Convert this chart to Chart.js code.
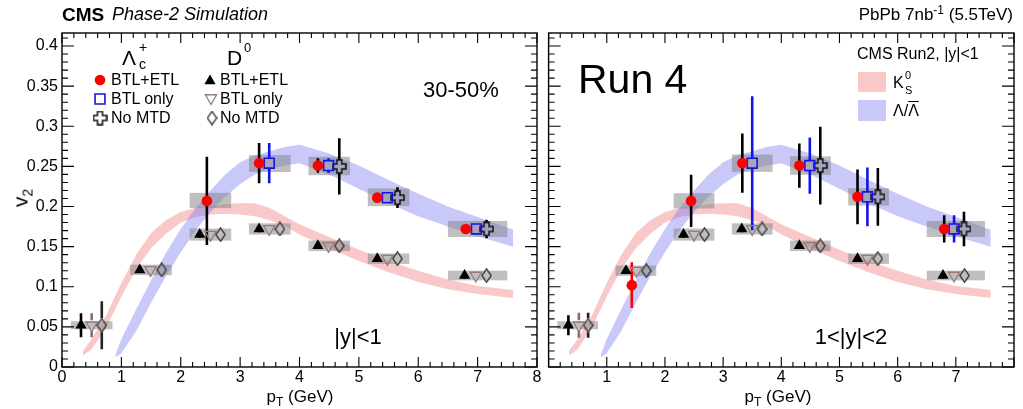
<!DOCTYPE html>
<html><head><meta charset="utf-8">
<script src="https://cdn.jsdelivr.net/npm/chart.js@4.4.1/dist/chart.umd.min.js"></script>
<style>
html,body{margin:0;padding:0;background:#fff;}
body{width:1023px;height:409px;position:relative;overflow:hidden;font-family:"Liberation Sans",Arial,Helvetica,sans-serif;color:#000;}
canvas{position:absolute;top:0;}
.t{position:absolute;white-space:nowrap;line-height:1;transform:translateY(-50%);}
.c{transform:translate(-50%,-50%);}
.sw{position:absolute;}
</style></head>
<body>
<canvas id="cL" width="560" height="409" style="left:0;width:560px;height:409px"></canvas>
<canvas id="cR" width="483" height="409" style="left:540px;width:483px;height:409px"></canvas>

<div class="t" style="left:62px;top:14px;font-size:19px;font-weight:bold">CMS</div>
<div class="t" style="left:112px;top:14px;font-size:18px;font-style:italic">Phase-2 Simulation</div>
<div class="t" style="right:10px;top:14px;font-size:17px">PbPb 7nb<span style="font-size:12px;position:relative;top:-6px">-1</span> (5.5TeV)</div>

<div class="t c" style="left:20px;top:198px;transform:translate(-50%,-50%) rotate(-90deg);font-size:21px">v<span style="font-size:14px;position:relative;top:5px">2</span></div>
<div class="t c" style="left:300px;top:396px;font-size:17px">p<span style="font-size:12px;position:relative;top:4px">T</span> (GeV)</div>
<div class="t c" style="left:778px;top:396px;font-size:17px">p<span style="font-size:12px;position:relative;top:4px">T</span> (GeV)</div>

<!-- left legend -->
<div class="t" style="left:122px;top:57px;font-size:21px">Λ</div>
<div class="t" style="left:139px;top:64px;font-size:14px">c</div>
<div class="t" style="left:139px;top:47px;font-size:14px">+</div>
<div class="t" style="left:227px;top:57px;font-size:21px">D</div>
<div class="t" style="left:244px;top:47px;font-size:13px">0</div>
<div class="t" style="left:111px;top:80px;font-size:16px">BTL+ETL</div>
<div class="t" style="left:111px;top:99px;font-size:16px">BTL only</div>
<div class="t" style="left:111px;top:118px;font-size:16px">No MTD</div>
<div class="t" style="left:220px;top:80px;font-size:16px">BTL+ETL</div>
<div class="t" style="left:220px;top:99px;font-size:16px">BTL only</div>
<div class="t" style="left:220px;top:118px;font-size:16px">No MTD</div>
<div class="t" style="left:423px;top:90px;font-size:22px">30-50%</div>
<div class="t c" style="left:358px;top:337px;font-size:22px">|y|&lt;1</div>

<!-- right panel texts -->
<div class="t" style="left:578px;top:79px;font-size:41px">Run 4</div>
<div class="t" style="left:857px;top:54px;font-size:16px">CMS Run2, |y|&lt;1</div>
<div class="sw" style="left:858px;top:72px;width:28px;height:20px;background:#f9c8c8"></div>
<div class="sw" style="left:858px;top:100px;width:28px;height:21px;background:#c8c8f9"></div>
<div class="t" style="left:893px;top:83px;font-size:16px">K</div>
<div class="t" style="left:905px;top:75px;font-size:11px">0</div>
<div class="t" style="left:905px;top:90px;font-size:11px">S</div>
<div class="t" style="left:893px;top:111px;font-size:16px">Λ/<span style="text-decoration:overline">Λ</span></div>
<div class="t c" style="left:851px;top:337px;font-size:22px">1&lt;|y|&lt;2</div>

<script>
// ---------- axis tick labels ----------
const xTickLabels     = ['0','1','2','3','4','5','6','7','8'];
const xTickLabelsRun4 = ['','1','2','3','4','5','6','7',''];
const yTickLabels     = ['0','0.05','0.1','0.15','0.2','0.25','0.3','0.35','0.4'];

// ---------- CMS Run2 |y|<1 reference bands ----------
const k0sPt = [0.35,0.5,0.75,1.0,1.25,1.5,1.75,2.0,2.25,2.5,2.75,3.0,3.25,3.5,3.75,4.0,4.5,5.0,5.5,6.0,6.5,7.0,7.6];
const k0sHi = [0.020,0.035,0.065,0.105,0.140,0.167,0.183,0.193,0.198,0.200,0.203,0.204,0.204,0.198,0.188,0.178,0.162,0.146,0.132,0.120,0.109,0.101,0.096];
const k0sLo = [0.014,0.022,0.050,0.088,0.122,0.148,0.166,0.180,0.187,0.190,0.191,0.190,0.188,0.183,0.176,0.165,0.148,0.132,0.118,0.106,0.097,0.091,0.086];
const lamPt = [0.9,1.0,1.25,1.5,1.75,2.0,2.25,2.5,2.75,3.0,3.25,3.5,3.75,4.0,4.5,5.0,5.5,6.0,6.5,7.0,7.6];
const lamHi = [0.016,0.035,0.072,0.108,0.142,0.172,0.198,0.220,0.240,0.255,0.264,0.269,0.274,0.277,0.266,0.251,0.233,0.216,0.200,0.187,0.171];
const lamLo = [0.012,0.017,0.045,0.080,0.113,0.143,0.170,0.193,0.212,0.228,0.240,0.247,0.251,0.254,0.240,0.222,0.204,0.188,0.175,0.163,0.150];

// ---------- pT bins (systematic boxes) ----------
const binLo = [0.15,1.15,2.15,3.15,4.15,5.15,6.5];
const binHi = [0.85,1.85,2.85,3.85,4.85,5.85,7.5];

// ---------- |y|<1 : D0 ----------
const d0V2_y1     = [0.052,0.121,0.165,0.172,0.151,0.135,0.114];
const d0Sys_y1    = [0.005,0.0065,0.0075,0.007,0.0065,0.0065,0.006];
const d0PtEtl_y1  = [0.32,1.31,2.32,3.32,4.31,5.31,6.78];
const d0PtBtl_y1  = [0.50,1.49,2.50,3.49,4.49,5.48,6.97];
const d0PtNo_y1   = [0.67,1.68,2.67,3.67,4.67,5.65,7.15];
const d0ErrEtl_y1 = [0.015,0.004,0.004,0.004,0.004,0.004,0.004];
const d0ErrBtl_y1 = [0.015,0.004,0.004,0.004,0.004,0.004,0.004];
const d0ErrNo_y1  = [0.030,0.0075,0.004,0.004,0.004,0.004,0.004];

// ---------- |y|<1 : Lambda_c ----------
const lcPtEtl_y1  = [2.44,3.32,4.31,5.31,6.80];
const lcV2Etl_y1  = [0.207,0.254,0.251,0.211,0.172];
const lcErrEtl_y1 = [0.055,0.025,0.009,0.005,0.0055];
const lcPtBtl_y1  = [3.49,4.49,5.48,6.98];
const lcV2Btl_y1  = [0.254,0.251,0.211,0.172];
const lcErrBtl_y1 = [0.025,0.009,0.005,0.0055];
const lcPtNo_y1   = [4.67,5.65,7.15];
const lcV2No_y1   = [0.250,0.211,0.172];
const lcErrNo_y1  = [0.035,0.013,0.0115];
const lcSysBin_y1 = [2,3,4,5,6];
const lcSysV2_y1  = [0.2075,0.2535,0.2505,0.2115,0.172];
const lcSys_y1    = [0.0095,0.0105,0.0115,0.011,0.010];

// ---------- 1<|y|<2 : D0 ----------
const d0V2_y2     = [0.052,0.120,0.165,0.172,0.151,0.135,0.114];
const d0Sys_y2    = [0.005,0.0065,0.0075,0.007,0.0065,0.0065,0.006];
const d0PtEtl_y2  = [0.34,1.33,2.32,3.32,4.31,5.31,6.78];
const d0PtBtl_y2  = [0.52,1.51,2.50,3.50,4.49,5.48,6.97];
const d0PtNo_y2   = [0.68,1.68,2.68,3.67,4.67,5.66,7.15];
const d0ErrEtl_y2 = [0.0125,0.004,0.004,0.004,0.004,0.004,0.004];
const d0ErrBtl_y2 = [0.0155,0.004,0.004,0.004,0.004,0.004,0.004];
const d0ErrNo_y2  = [0.0155,0.004,0.004,0.004,0.004,0.004,0.004];

// ---------- 1<|y|<2 : Lambda_c ----------
const lcPtEtl_y2  = [1.43,2.45,3.33,4.31,5.31,6.80];
const lcV2Etl_y2  = [0.102,0.207,0.254,0.251,0.212,0.172];
const lcErrEtl_y2 = [0.0285,0.0325,0.037,0.0275,0.034,0.017];
const lcPtBtl_y2  = [3.50,4.49,5.48,6.97];
const lcV2Btl_y2  = [0.254,0.251,0.212,0.172];
const lcErrBtl_y2 = [0.0835,0.035,0.0365,0.017];
const lcPtNo_y2   = [4.67,5.66,7.14];
const lcV2No_y2   = [0.251,0.212,0.172];
const lcErrNo_y2  = [0.0485,0.036,0.0215];
const lcSysBin_y2 = [2,3,4,5,6];
const lcSysV2_y2  = [0.207,0.254,0.251,0.212,0.172];
const lcSys_y2    = [0.0095,0.0108,0.0115,0.0108,0.010];

// ---------- styles ----------
function makeImg(w,h,fn){const c=document.createElement('canvas');c.width=w;c.height=h;fn(c.getContext('2d'));return c;}
const diamondImg = makeImg(11,15,g=>{g.strokeStyle='#3c3c3c';g.lineWidth=1.4;g.beginPath();g.moveTo(5.5,0.8);g.lineTo(10.2,7.5);g.lineTo(5.5,14.2);g.lineTo(0.8,7.5);g.closePath();g.stroke();});
const crossImg = makeImg(15,15,g=>{g.strokeStyle='#111';g.lineWidth=1.5;const a=5,b=10,e=1,f=14;g.beginPath();g.moveTo(a,e);g.lineTo(b,e);g.lineTo(b,a);g.lineTo(f,a);g.lineTo(f,b);g.lineTo(b,b);g.lineTo(b,f);g.lineTo(a,f);g.lineTo(a,b);g.lineTo(e,b);g.lineTo(e,a);g.lineTo(a,a);g.closePath();g.stroke();});
const CLEAR='rgba(0,0,0,0)';
const STY = {
  lcEtl:{pointStyle:'circle',pointRadius:5.3,pointBackgroundColor:'#ff0000',pointBorderColor:'#ff0000',pointBorderWidth:0,gap:0,err:'#000'},
  lcBtl:{pointStyle:'rect',pointRadius:7,pointBackgroundColor:CLEAR,pointBorderColor:'#1414e6',pointBorderWidth:1.6,gap:5,err:'#1414e6'},
  lcNo:{pointStyle:crossImg,pointRadius:7,pointBackgroundColor:CLEAR,pointBorderColor:CLEAR,pointBorderWidth:0,gap:6.5,err:'#000'},
  d0Etl:{pointStyle:'triangle',pointRadius:6.5,pointBackgroundColor:'#000',pointBorderColor:'#000',pointBorderWidth:0,gap:0,err:'#000'},
  d0Btl:{pointStyle:'triangle',pointRotation:180,pointRadius:6.5,pointBackgroundColor:CLEAR,pointBorderColor:'#977a7c',pointBorderWidth:1.3,gap:5,err:'#8a6c6e'},
  d0No:{pointStyle:diamondImg,pointRadius:7,pointBackgroundColor:CLEAR,pointBorderColor:CLEAR,pointBorderWidth:0,gap:7,err:'#222'}
};
const PINK='rgba(240,110,110,0.38)', BLUE='rgba(110,110,240,0.38)', SYS='rgba(128,128,128,0.5)';

function band(pt,lo,hi,color){
  return [
    {type:'line',order:10,data:pt.map((x,i)=>({x,y:lo[i]})),borderColor:CLEAR,borderWidth:0,pointRadius:0,fill:false},
    {type:'line',order:10,data:pt.map((x,i)=>({x,y:hi[i]})),borderColor:CLEAR,borderWidth:0,pointRadius:0,fill:'-1',backgroundColor:color}
  ];
}
function pts(pt,v2,err,s,errColor){
  return {type:'scatter',order:0,showLine:false,data:pt.map((x,i)=>({x,y:v2[i]})),
    pointStyle:s.pointStyle,pointRadius:s.pointRadius,pointHoverRadius:s.pointRadius,pointRotation:s.pointRotation||0,
    pointBackgroundColor:s.pointBackgroundColor,pointBorderColor:s.pointBorderColor,pointBorderWidth:s.pointBorderWidth,
    backgroundColor:s.pointBackgroundColor,borderColor:s.pointBorderColor,
    errors:err,errColor:errColor||s.err,errWidth:2.6,gap:s.gap};
}
function boxes(bins,v2,sys){
  return bins.map((b,i)=>({lo:binLo[b],hi:binHi[b],v:v2[i],s:sys[i]}));
}

const decor = {
  cL:{legend:true,boxes:[...boxes([0,1,2,3,4,5,6],d0V2_y1,d0Sys_y1),...boxes(lcSysBin_y1,lcSysV2_y1,lcSys_y1)]},
  cR:{legend:false,boxes:[...boxes([0,1,2,3,4,5,6],d0V2_y2,d0Sys_y2),...boxes(lcSysBin_y2,lcSysV2_y2,lcSys_y2)]}
};

function drawMarker(ctx,s,x,y){
  if(!Chart.helpers||!Chart.helpers.drawPoint) return;
  ctx.save();
  ctx.fillStyle=s.pointBackgroundColor; ctx.strokeStyle=s.pointBorderColor; ctx.lineWidth=s.pointBorderWidth;
  Chart.helpers.drawPoint(ctx,{pointStyle:s.pointStyle,radius:s.pointRadius,rotation:s.pointRotation||0,borderWidth:s.pointBorderWidth},x,y);
  ctx.restore();
}

const hepDecor = {
  id:'hepDecor',
  beforeDraw(chart){chart.$sysDone=false;},
  beforeDatasetDraw(chart,args){
    if(chart.$sysDone) return;
    const ds=chart.data.datasets[args.index];
    if(ds.type!=='scatter') return;
    chart.$sysDone=true;
    const cfg=decor[chart.canvas.id];
    const {ctx,chartArea:a,scales:{x,y}}=chart;
    ctx.save();
    ctx.beginPath();ctx.rect(a.left,a.top,a.right-a.left,a.bottom-a.top);ctx.clip();
    ctx.fillStyle=SYS;
    cfg.boxes.forEach(b=>{
      const x0=x.getPixelForValue(b.lo),x1=x.getPixelForValue(b.hi);
      const y0=y.getPixelForValue(b.v+b.s),y1=y.getPixelForValue(b.v-b.s);
      ctx.fillRect(x0,y0,x1-x0,y1-y0);
    });
    chart.data.datasets.forEach(d=>{
      if(!d.errors) return;
      d.data.forEach((p,i)=>{
        const px=x.getPixelForValue(p.x),py=y.getPixelForValue(p.y);
        const top=y.getPixelForValue(p.y+d.errors[i]),bot=y.getPixelForValue(p.y-d.errors[i]);
        ctx.strokeStyle=Array.isArray(d.errColor)?d.errColor[i]:d.errColor;
        ctx.lineWidth=d.errWidth;
        const g=d.gap;
        ctx.beginPath();
        if(py-g>top){ctx.moveTo(px,top);ctx.lineTo(px,py-g);}
        if(py+g<bot){ctx.moveTo(px,py+g);ctx.lineTo(px,bot);}
        ctx.stroke();
      });
    });
    ctx.restore();
  },
  afterDraw(chart){
    const {ctx,chartArea:a,scales:{x,y}}=chart;
    ctx.save();
    ctx.strokeStyle='#000';ctx.lineWidth=1.4;
    ctx.strokeRect(a.left,a.top,a.right-a.left,a.bottom-a.top);
    ctx.lineWidth=1.1;ctx.beginPath();
    for(let i=0;i<=40;i++){
      const px=x.getPixelForValue(i*0.2);const L=i%5===0?10:5;
      ctx.moveTo(px,a.bottom);ctx.lineTo(px,a.bottom-L);
      ctx.moveTo(px,a.top);ctx.lineTo(px,a.top+L);
    }
    for(let i=0;i<=41;i++){
      const v=i*0.01; if(v>y.max) break;
      const py=y.getPixelForValue(v);const L=i%5===0?12:6;
      ctx.moveTo(a.left,py);ctx.lineTo(a.left+L,py);
      ctx.moveTo(a.right,py);ctx.lineTo(a.right-L,py);
    }
    ctx.stroke();
    ctx.restore();
    if(decor[chart.canvas.id].legend){
      drawMarker(ctx,STY.lcEtl,100,80);
      drawMarker(ctx,STY.lcBtl,100,99);
      drawMarker(ctx,STY.lcNo,100,118);
      drawMarker(ctx,STY.d0Etl,210,81);
      drawMarker(ctx,STY.d0Btl,211,98);
      drawMarker(ctx,STY.d0No,212,118);
    }
  }
};

function labelFor(arr,v){
  const hit=arr.find(l=>l!==''&&Math.abs(parseFloat(l)-v)<1e-6);
  return hit===undefined?'':hit;
}
function makeChart(id,datasets,xLabels,showY,padRight){
  const tickFont={family:'Liberation Sans',size:16};
  return new Chart(document.getElementById(id),{
    data:{datasets},
    options:{
      responsive:false,animation:false,events:[],
      layout:{padding:{left:0,right:padRight,top:33,bottom:0}},
      plugins:{legend:{display:false},tooltip:{enabled:false}},
      scales:{
        x:{type:'linear',min:0,max:8,position:'bottom',
          grid:{display:false,drawTicks:false,tickLength:0},border:{display:false},
          ticks:{stepSize:1,autoSkip:false,maxRotation:0,minRotation:0,padding:1,color:'#000',font:tickFont,
            callback:v=>{const k=Math.round(v);return Math.abs(k-v)<1e-6&&xLabels[k]!==undefined?xLabels[k]:'';}},
          afterFit:s=>{s.height=42;}},
        y:{type:'linear',min:0,max:0.4162,display:showY,position:'left',
          grid:{display:false,drawTicks:false,tickLength:0},border:{display:false},
          ticks:{stepSize:0.05,includeBounds:false,autoSkip:false,padding:4,color:'#000',font:tickFont,
            callback:v=>labelFor(yTickLabels,v)},
          afterFit:s=>{s.width=showY?62:0;}}
      }
    },
    plugins:[hepDecor]
  });
}

const dsL=[
  ...band(lamPt,lamLo,lamHi,BLUE),
  ...band(k0sPt,k0sLo,k0sHi,PINK),
  pts(lcPtEtl_y1,lcV2Etl_y1,lcErrEtl_y1,STY.lcEtl),
  pts(lcPtBtl_y1,lcV2Btl_y1,lcErrBtl_y1,STY.lcBtl),
  pts(lcPtNo_y1,lcV2No_y1,lcErrNo_y1,STY.lcNo),
  pts(d0PtEtl_y1,d0V2_y1,d0ErrEtl_y1,STY.d0Etl),
  pts(d0PtBtl_y1,d0V2_y1,d0ErrBtl_y1,STY.d0Btl),
  pts(d0PtNo_y1,d0V2_y1,d0ErrNo_y1,STY.d0No)
];
const dsR=[
  ...band(lamPt,lamLo,lamHi,BLUE),
  ...band(k0sPt,k0sLo,k0sHi,PINK),
  pts(lcPtEtl_y2,lcV2Etl_y2,lcErrEtl_y2,STY.lcEtl,['#ff0000','#000','#000','#000','#000','#000']),
  pts(lcPtBtl_y2,lcV2Btl_y2,lcErrBtl_y2,STY.lcBtl),
  pts(lcPtNo_y2,lcV2No_y2,lcErrNo_y2,STY.lcNo),
  pts(d0PtEtl_y2,d0V2_y2,d0ErrEtl_y2,STY.d0Etl),
  pts(d0PtBtl_y2,d0V2_y2,d0ErrBtl_y2,STY.d0Btl),
  pts(d0PtNo_y2,d0V2_y2,d0ErrNo_y2,STY.d0No)
];
makeChart('cL',dsL,xTickLabels,true,23);
makeChart('cR',dsR,xTickLabelsRun4,false,9);
</script>
</body></html>
